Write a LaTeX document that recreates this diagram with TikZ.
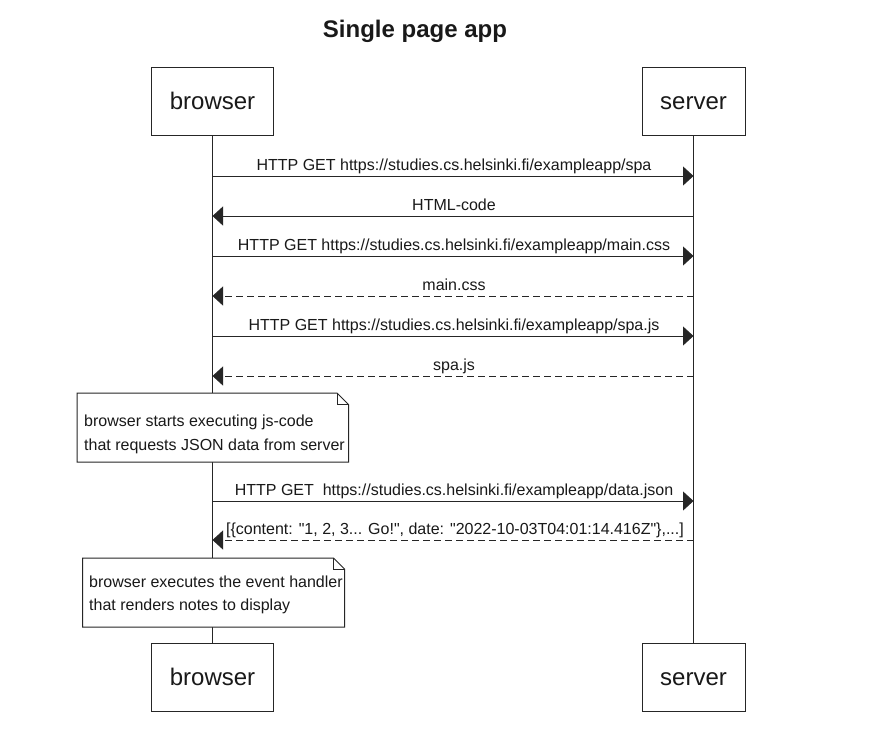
\documentclass[tikz,border=0pt]{standalone}
\usepackage{fontspec}
\setmainfont{Liberation Sans}[Ligatures=TeXOff]
\usetikzlibrary{arrows.meta}
\begin{document}
\begin{tikzpicture}[x=1pt,y=-1pt,
  lc/.style={draw=black!85, line width=1pt},
  actor/.style={lc, fill=white, minimum height=68pt, inner sep=0pt, text height=17.4pt, text depth=0pt, text=black!90, font=\fontsize{24}{28}\selectfont},
  msg/.style={lc, -{Triangle[length=10.5pt,width=19pt]}},
  reply/.style={msg, dash pattern=on 7pt off 4pt},
  lbl/.style={anchor=base, inner sep=0pt, text=black!90, font=\fontsize{16}{20}\selectfont},
  notetxt/.style={anchor=base west, inner sep=0pt, text=black!90, font=\fontsize{16}{20}\selectfont},
  notebox/.style={lc, fill=white}
]
\useasboundingbox (0,0) rectangle (881,731);
\fill[white] (0,0) rectangle (881,731);

\node[font=\fontsize{24}{28}\selectfont\bfseries, text=black!90] (title) at (415,31) {Single page app};

% participants
\node[actor, minimum width=122pt] (btop) at (212.5,101) {browser};
\node[actor, minimum width=103pt] (stop) at (693.5,101) {server};
\node[actor, minimum width=122pt] (bbot) at (212.5,677) {browser};
\node[actor, minimum width=103pt] (sbot) at (693.5,677) {server};

% lifelines
\draw[lc] (btop.south) -- (bbot.north);
\draw[lc] (stop.south) -- (sbot.north);

% message end points
\foreach \i/\y in {1/176,2/216,3/256,4/296,5/336,6/376,7/501,8/540}{
  \coordinate (b\i) at (212.5,\y);
  \coordinate (s\i) at (693.5,\y);
}

\draw[msg] (b1) -- (s1);
\node[lbl] (l1) at (454,170.5) {HTTP GET https://studies.cs.helsinki.fi/exampleapp/spa};
\draw[msg] (s2) -- (b2);
\node[lbl] (l2) at (454,210.5) {HTML-code};
\draw[msg] (b3) -- (s3);
\node[lbl] (l3) at (454,250.5) {HTTP GET https://studies.cs.helsinki.fi/exampleapp/main.css};
\draw[reply] (s4) -- (b4);
\node[lbl] (l4) at (454,290.5) {main.css};
\draw[msg] (b5) -- (s5);
\node[lbl] (l5) at (454,330.5) {HTTP GET https://studies.cs.helsinki.fi/exampleapp/spa.js};
\draw[reply] (s6) -- (b6);
\node[lbl] (l6) at (454,370.5) {spa.js};

% note 1
\draw[notebox] (77,393) -- (337,393) -- (348.5,404.5) -- (348.5,462) -- (77,462) -- cycle;
\draw[lc] (337,393) -- (337,404.5) -- (348.5,404.5);
\node[notetxt] (n1a) at (84,426.5) {browser starts executing js-code};
\node[notetxt] (n1b) at (84,450.5) {that requests JSON data from server};

\draw[msg] (b7) -- (s7);
\node[lbl] (l7) at (454,495.5) {HTTP GET~ https://studies.cs.helsinki.fi/exampleapp/data.json};
\draw[reply] (s8) -- (b8);
\node[lbl] (l8) at (455,534.5) {[\{content: "1, 2, 3... Go!", date: "2022-10-03T04:01:14.416Z"\},...]};

% note 2
\draw[notebox] (82.5,558) -- (333.5,558) -- (344.5,569) -- (344.5,627) -- (82.5,627) -- cycle;
\draw[lc] (333.5,558) -- (333.5,569) -- (344.5,569);
\node[notetxt] (n2a) at (89,587) {browser executes the event handler};
\node[notetxt] (n2b) at (89,610) {that renders notes to display};
\end{tikzpicture}
\end{document}
